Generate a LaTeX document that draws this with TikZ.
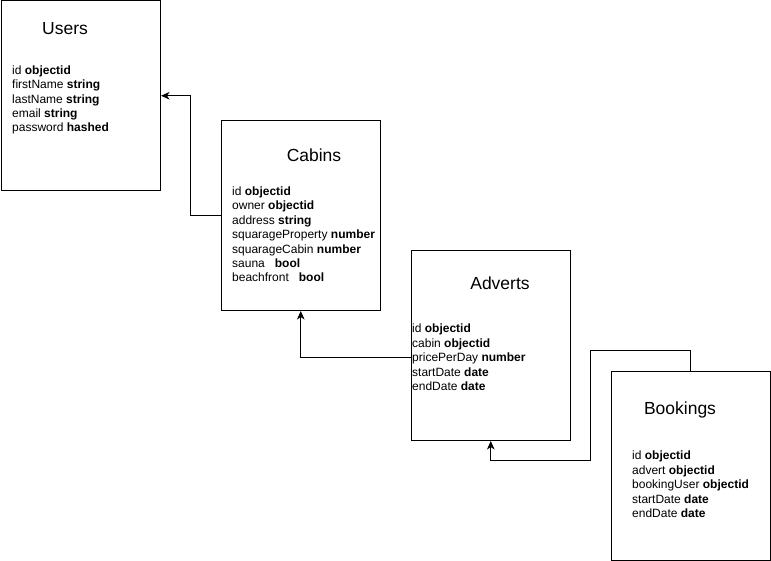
\documentclass[tikz,border=0pt]{standalone}
\usepackage{fontspec}
\setmainfont{Liberation Sans}
\usetikzlibrary{arrows.meta,calc}
\begin{document}
\begin{tikzpicture}[x=1pt,y=-1pt,
  entity/.style={draw=black,line width=1pt,fill=white,minimum width=159.5pt,minimum height=189.5pt,inner sep=0pt,anchor=north west},
  title/.style={font=\fontsize{17.5pt}{21pt}\selectfont,inner sep=0pt},
  fields/.style={font=\fontsize{12pt}{14.4pt}\selectfont,align=left,inner sep=0pt,anchor=west},
  arr/.style={line width=1pt,-{Stealth[length=8.5pt,width=7.5pt,inset=2.5pt]}}
]
\useasboundingbox (0,0) rectangle (771,561);
\fill[white] (0,0) rectangle (771,561);
\node[entity] (users) at (0.5,0.5) {};
\node[entity] (cabins) at (220.5,120.5) {};
\node[entity] (adverts) at (410.5,250.5) {};
\node[entity] (bookings) at (610.5,370.5) {};

\node[title] (usersT) at (65,29) {Users};
\node[title] (cabinsT) at (314,155) {Cabins};
\node[title] (advertsT) at (500,283) {Adverts};
\node[title] (bookingsT) at (680,410) {Bookings};

\node[fields] (usersF) at (12,100) {id \textbf{objectid}\\firstName \textbf{string}\\lastName \textbf{string}\\email \textbf{string}\\password \textbf{hashed}};
\node[fields] (cabinsF) at (232,234.5) {id \textbf{objectid}\\owner \textbf{objectid}\\address \textbf{string}\\squarageProperty \textbf{number}\\squarageCabin \textbf{number}\\sauna \ \ \textbf{bool}\\beachfront \ \ \textbf{bool}};
\node[fields] (advertsF) at (412,357.5) {id \textbf{objectid}\\cabin \textbf{objectid}\\pricePerDay \textbf{number}\\startDate \textbf{date}\\endDate \textbf{date}};
\node[fields] (bookingsF) at (632,484.5) {id \textbf{objectid}\\advert \textbf{objectid}\\bookingUser \textbf{objectid}\\startDate \textbf{date}\\endDate \textbf{date}};

\draw[arr] (cabins.west) -- ++(-30,0) |- (users.east);
\draw[arr] ([yshift=-12pt]adverts.west) -| (cabins.south);
\draw[arr] (bookings.north) -- ++(0,-20) -- ++(-100,0) -- ++(0,110) -| (adverts.south);
\end{tikzpicture}
\end{document}
